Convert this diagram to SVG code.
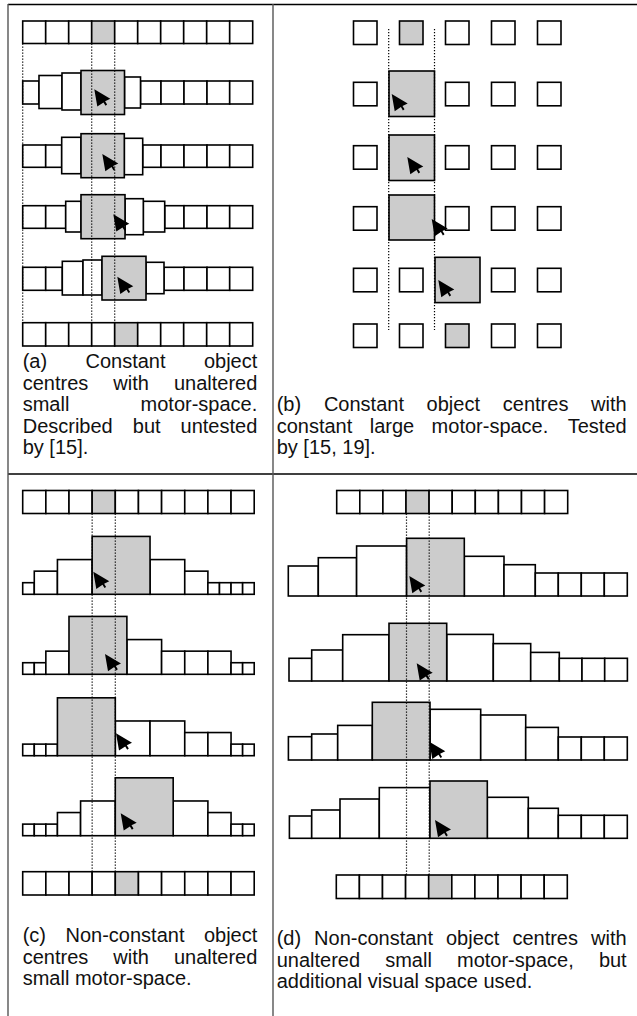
<svg xmlns="http://www.w3.org/2000/svg" width="637" height="1016" viewBox="0 0 637 1016">
<defs>
<style>
.c{fill:#fff;stroke:#000;stroke-width:1.6}
.g{fill:#ccc;stroke:#000;stroke-width:1.6}
.dot{stroke:#000;stroke-width:1.2;stroke-dasharray:1.3 1.7;fill:none}
.t{font-family:"Liberation Sans",Arial,sans-serif;font-size:20px;fill:#111}
.e{text-anchor:end}
.frame{stroke-width:1.4}
</style>
<path id="cur" d="M0,0 L16,9.5 L10.8,12 L12.8,15.3 L11.2,16.4 L9.2,13.1 L3,17.2 Z" fill="#000"/>
</defs>
<rect width="637" height="1016" fill="#fff"/>

<g id="frame" class="frame">
<line x1="8" y1="4.5" x2="637" y2="4.5" stroke="#000"/>
<line x1="8" y1="474" x2="637" y2="474" stroke="#000"/>
<line x1="8" y1="4" x2="8" y2="1016" stroke="#555"/>
<line x1="273" y1="4" x2="273" y2="1016" stroke="#555"/>
</g>

<g id="panel-a">
<g id="a-row1">
<rect class="c" x="22.7" y="21" width="23" height="22.5"/><rect class="c" x="45.7" y="21" width="23" height="22.5"/><rect class="c" x="68.7" y="21" width="23" height="22.5"/><rect class="g" x="91.7" y="21" width="23" height="22.5"/><rect class="c" x="114.7" y="21" width="23" height="22.5"/><rect class="c" x="137.7" y="21" width="23" height="22.5"/><rect class="c" x="160.7" y="21" width="23" height="22.5"/><rect class="c" x="183.7" y="21" width="23" height="22.5"/><rect class="c" x="206.7" y="21" width="23" height="22.5"/><rect class="c" x="229.7" y="21" width="23" height="22.5"/>
</g>
<g id="a-row2">
<rect class="c" x="22.7" y="81" width="16.3" height="23"/><rect class="c" x="140.5" y="81" width="20.5" height="23"/><rect class="c" x="161" y="81" width="23" height="23"/><rect class="c" x="184" y="81" width="23" height="23"/><rect class="c" x="207" y="81" width="22.7" height="23"/><rect class="c" x="229.7" y="81" width="23" height="23"/>
<rect class="c" x="39" y="75.5" width="23" height="33"/><rect class="c" x="62" y="73" width="19" height="37"/><rect class="c" x="124.5" y="77" width="16" height="31"/>
<rect class="g" x="81" y="70.5" width="43.5" height="44"/>
</g>
<g id="a-row3">
<rect class="c" x="22.7" y="145" width="23" height="22.3"/><rect class="c" x="45.7" y="145" width="16" height="22.3"/><rect class="c" x="142.7" y="145" width="18.3" height="22.3"/><rect class="c" x="161" y="145" width="23" height="22.3"/><rect class="c" x="184" y="145" width="23" height="22.3"/><rect class="c" x="207" y="145" width="22.7" height="22.3"/><rect class="c" x="229.7" y="145" width="23" height="22.3"/>
<rect class="c" x="61.7" y="137.3" width="19.3" height="36.4"/><rect class="c" x="124.3" y="138.3" width="18.4" height="36.4"/>
<rect class="g" x="81" y="133.7" width="43.3" height="44"/>
</g>
<g id="a-row4">
<rect class="c" x="22.7" y="205.7" width="23" height="22.6"/><rect class="c" x="45.7" y="205.7" width="20" height="22.6"/><rect class="c" x="164.7" y="205.7" width="19.3" height="22.6"/><rect class="c" x="184" y="205.7" width="23" height="22.6"/><rect class="c" x="207" y="205.7" width="22.7" height="22.6"/><rect class="c" x="229.7" y="205.7" width="23" height="22.6"/>
<rect class="c" x="65.7" y="201.3" width="15.3" height="30.7"/><rect class="c" x="143.3" y="201.3" width="21.4" height="30.7"/><rect class="c" x="125" y="198.7" width="18.3" height="36"/>
<rect class="g" x="81" y="194.7" width="44" height="44"/>
</g>
<g id="a-row5">
<rect class="c" x="22.7" y="267.3" width="23" height="23"/><rect class="c" x="45.7" y="267.3" width="16.6" height="23"/><rect class="c" x="164" y="267.3" width="20" height="23"/><rect class="c" x="184" y="267.3" width="23" height="23"/><rect class="c" x="207" y="267.3" width="22.7" height="23"/><rect class="c" x="229.7" y="267.3" width="23" height="23"/>
<rect class="c" x="62.3" y="261.3" width="20.7" height="33.7"/><rect class="c" x="83" y="260" width="19" height="35"/><rect class="c" x="146" y="262.3" width="18" height="31.4"/>
<rect class="g" x="102" y="256.3" width="44" height="43.7"/>
</g>
<g id="a-row6">
<rect class="c" x="22.7" y="322.7" width="23" height="23.3"/><rect class="c" x="45.7" y="322.7" width="23" height="23.3"/><rect class="c" x="68.7" y="322.7" width="23" height="23.3"/><rect class="c" x="91.7" y="322.7" width="23" height="23.3"/><rect class="g" x="114.7" y="322.7" width="23" height="23.3"/><rect class="c" x="137.7" y="322.7" width="23" height="23.3"/><rect class="c" x="160.7" y="322.7" width="23" height="23.3"/><rect class="c" x="183.7" y="322.7" width="23" height="23.3"/><rect class="c" x="206.7" y="322.7" width="23" height="23.3"/><rect class="c" x="229.7" y="322.7" width="23" height="23.3"/>
</g>
<g id="a-guides">
<line class="dot" x1="22.7" y1="43.5" x2="22.7" y2="322.7"/>
<line class="dot" x1="91.7" y1="43.5" x2="91.7" y2="322.7"/>
<line class="dot" x1="114.7" y1="43.5" x2="114.7" y2="322.7"/>
</g>
<g id="a-cursors">
<use href="#cur" x="94.3" y="89.3"/><use href="#cur" x="102.3" y="154"/><use href="#cur" x="113.3" y="214.3"/><use href="#cur" x="117.3" y="276.7"/>
</g>
<text class="t" y="367.5"><tspan x="22.7">(a)</tspan><tspan x="85.5">Constant</tspan><tspan class="e" x="257.3">object</tspan></text>
<text class="t" y="389.5"><tspan x="22.7">centres</tspan><tspan x="113.3">with</tspan><tspan class="e" x="257.3">unaltered</tspan></text>
<text class="t" y="411"><tspan x="22.7">small</tspan><tspan class="e" x="257.3">motor-space.</tspan></text>
<text class="t" y="432.5"><tspan x="22.7">Described</tspan><tspan x="132.8">but</tspan><tspan class="e" x="257.3">untested</tspan></text>
<text class="t" x="22.7" y="454">by [15].</text>
</g>

<g id="panel-b">
<g id="b-row1">
<rect class="c" x="353.5" y="21" width="23.5" height="23.5"/><rect class="g" x="399.5" y="21" width="23.5" height="23.5"/><rect class="c" x="445.5" y="21" width="23.5" height="23.5"/><rect class="c" x="491.5" y="21" width="23.5" height="23.5"/><rect class="c" x="537.5" y="21" width="23.5" height="23.5"/>
</g>
<g id="b-row2">
<rect class="c" x="353.5" y="82.3" width="23.5" height="23.5"/><rect class="c" x="445.5" y="82.3" width="23.5" height="23.5"/><rect class="c" x="491.5" y="82.3" width="23.5" height="23.5"/><rect class="c" x="537.5" y="82.3" width="23.5" height="23.5"/>
<rect class="g" x="389" y="71" width="45.5" height="45.5"/>
</g>
<g id="b-row3">
<rect class="c" x="353.5" y="145.7" width="23.5" height="23.5"/><rect class="c" x="445.5" y="145.7" width="23.5" height="23.5"/><rect class="c" x="491.5" y="145.7" width="23.5" height="23.5"/><rect class="c" x="537.5" y="145.7" width="23.5" height="23.5"/>
<rect class="g" x="389" y="135" width="45.5" height="45.5"/>
</g>
<g id="b-row4">
<rect class="c" x="353.5" y="206.7" width="23.5" height="23.5"/><rect class="c" x="445.5" y="206.7" width="23.5" height="23.5"/><rect class="c" x="491.5" y="206.7" width="23.5" height="23.5"/><rect class="c" x="537.5" y="206.7" width="23.5" height="23.5"/>
<rect class="g" x="389" y="195" width="45.5" height="45"/>
</g>
<g id="b-row5">
<rect class="c" x="353.5" y="268.3" width="23.5" height="23.5"/><rect class="c" x="399.5" y="268.3" width="23.5" height="23.5"/><rect class="c" x="491.5" y="268.3" width="23.5" height="23.5"/><rect class="c" x="537.5" y="268.3" width="23.5" height="23.5"/>
<rect class="g" x="435" y="257.3" width="45" height="45.3"/>
</g>
<g id="b-row6">
<rect class="c" x="353.5" y="324" width="23.5" height="23.5"/><rect class="c" x="399.5" y="324" width="23.5" height="23.5"/><rect class="g" x="445.5" y="324" width="23.5" height="23.5"/><rect class="c" x="491.5" y="324" width="23.5" height="23.5"/><rect class="c" x="537.5" y="324" width="23.5" height="23.5"/>
</g>
<g id="b-guides">
<line class="dot" x1="388.7" y1="29" x2="388.7" y2="330"/>
<line class="dot" x1="434.5" y1="29" x2="434.5" y2="330"/>
</g>
<g id="b-cursors">
<use href="#cur" x="391.7" y="94"/><use href="#cur" x="407.3" y="157"/><use href="#cur" x="431.7" y="219"/><use href="#cur" x="438.3" y="280"/>
</g>
<text class="t" y="411"><tspan x="276.7">(b)</tspan><tspan x="323.9">Constant</tspan><tspan x="426.6">object</tspan><tspan x="502.8">centres</tspan><tspan class="e" x="626.7">with</tspan></text>
<text class="t" y="432.5"><tspan x="276.7">constant</tspan><tspan x="369.7">large</tspan><tspan x="431.6">motor-space.</tspan><tspan class="e" x="626.7">Tested</tspan></text>
<text class="t" x="276.7" y="454">by [15, 19].</text>
</g>

<g id="panel-c">
<g id="c-row1">
<rect class="c" x="22.7" y="490.5" width="23.15" height="23"/><rect class="c" x="45.85" y="490.5" width="23.15" height="23"/><rect class="c" x="69" y="490.5" width="23.15" height="23"/><rect class="g" x="92.15" y="490.5" width="23.15" height="23"/><rect class="c" x="115.3" y="490.5" width="23.15" height="23"/><rect class="c" x="138.45" y="490.5" width="23.15" height="23"/><rect class="c" x="161.6" y="490.5" width="23.15" height="23"/><rect class="c" x="184.75" y="490.5" width="23.15" height="23"/><rect class="c" x="207.9" y="490.5" width="23.15" height="23"/><rect class="c" x="231.05" y="490.5" width="23.15" height="23"/>
</g>
<g id="c-row2">
<rect class="c" x="22.7" y="582.7" width="11.58" height="11.6"/><rect class="c" x="34.28" y="571.15" width="23.15" height="23.15"/><rect class="c" x="57.43" y="559.58" width="34.72" height="34.72"/><rect class="c" x="150.03" y="559.58" width="34.72" height="34.72"/><rect class="c" x="184.75" y="571.15" width="23.15" height="23.15"/><rect class="c" x="207.9" y="582.7" width="11.58" height="11.6"/><rect class="c" x="219.48" y="582.7" width="11.58" height="11.6"/><rect class="c" x="231.05" y="582.7" width="11.58" height="11.6"/><rect class="c" x="242.63" y="582.7" width="11.58" height="11.6"/>
<rect class="g" x="92.15" y="536.42" width="57.88" height="57.88"/>
</g>
<g id="c-row3">
<rect class="c" x="22.7" y="662.72" width="11.58" height="11.58"/><rect class="c" x="34.28" y="662.72" width="11.58" height="11.58"/><rect class="c" x="45.85" y="651.15" width="23.15" height="23.15"/><rect class="c" x="126.88" y="639.58" width="34.72" height="34.72"/><rect class="c" x="161.6" y="651.15" width="23.15" height="23.15"/><rect class="c" x="184.75" y="651.15" width="23.15" height="23.15"/><rect class="c" x="207.9" y="651.15" width="23.15" height="23.15"/><rect class="c" x="231.05" y="662.72" width="11.58" height="11.58"/><rect class="c" x="242.63" y="662.72" width="11.58" height="11.58"/>
<rect class="g" x="69" y="616.42" width="57.88" height="57.88"/>
</g>
<g id="c-row4">
<rect class="c" x="22.7" y="744.12" width="11.58" height="11.58"/><rect class="c" x="34.28" y="744.12" width="11.58" height="11.58"/><rect class="c" x="45.85" y="744.12" width="11.58" height="11.58"/><rect class="c" x="115.3" y="720.98" width="34.72" height="34.72"/><rect class="c" x="150.03" y="720.98" width="34.72" height="34.72"/><rect class="c" x="184.75" y="732.55" width="23.15" height="23.15"/><rect class="c" x="207.9" y="732.55" width="23.15" height="23.15"/><rect class="c" x="231.05" y="744.12" width="11.58" height="11.58"/><rect class="c" x="242.63" y="744.12" width="11.58" height="11.58"/>
<rect class="g" x="57.43" y="697.82" width="57.88" height="57.88"/>
</g>
<g id="c-row5">
<rect class="c" x="22.7" y="824.12" width="11.58" height="11.58"/><rect class="c" x="34.28" y="824.12" width="11.58" height="11.58"/><rect class="c" x="45.85" y="824.12" width="11.58" height="11.58"/><rect class="c" x="57.43" y="812.55" width="23.15" height="23.15"/><rect class="c" x="80.58" y="800.98" width="34.72" height="34.72"/><rect class="c" x="173.18" y="800.98" width="34.72" height="34.72"/><rect class="c" x="207.9" y="812.55" width="23.15" height="23.15"/><rect class="c" x="231.05" y="824.12" width="11.58" height="11.58"/><rect class="c" x="242.63" y="824.12" width="11.58" height="11.58"/>
<rect class="g" x="115.3" y="777.82" width="57.88" height="57.88"/>
</g>
<g id="c-row6">
<rect class="c" x="22.7" y="871.7" width="23.15" height="23.3"/><rect class="c" x="45.85" y="871.7" width="23.15" height="23.3"/><rect class="c" x="69" y="871.7" width="23.15" height="23.3"/><rect class="c" x="92.15" y="871.7" width="23.15" height="23.3"/><rect class="g" x="115.3" y="871.7" width="23.15" height="23.3"/><rect class="c" x="138.45" y="871.7" width="23.15" height="23.3"/><rect class="c" x="161.6" y="871.7" width="23.15" height="23.3"/><rect class="c" x="184.75" y="871.7" width="23.15" height="23.3"/><rect class="c" x="207.9" y="871.7" width="23.15" height="23.3"/><rect class="c" x="231.05" y="871.7" width="23.15" height="23.3"/>
</g>
<g id="c-guides">
<line class="dot" x1="92.15" y1="513.5" x2="92.15" y2="871.7"/>
<line class="dot" x1="115.3" y1="513.5" x2="115.3" y2="871.7"/>
</g>
<g id="c-cursors">
<use href="#cur" x="93.3" y="571.7"/><use href="#cur" x="105" y="654"/><use href="#cur" x="116" y="733.3"/><use href="#cur" x="120.7" y="813.3"/>
</g>
<text class="t" y="942"><tspan x="22.7">(c)</tspan><tspan x="65.5">Non-constant</tspan><tspan class="e" x="257.3">object</tspan></text>
<text class="t" y="963.5"><tspan x="22.7">centres</tspan><tspan x="113.3">with</tspan><tspan class="e" x="257.3">unaltered</tspan></text>
<text class="t" x="22.7" y="985">small motor-space.</text>
</g>

<g id="panel-d">
<g id="d-row1">
<rect class="c" x="336.7" y="490.5" width="23.1" height="23"/><rect class="c" x="359.8" y="490.5" width="23.1" height="23"/><rect class="c" x="382.9" y="490.5" width="23.1" height="23"/><rect class="g" x="406" y="490.5" width="23.1" height="23"/><rect class="c" x="429.1" y="490.5" width="23.1" height="23"/><rect class="c" x="452.2" y="490.5" width="23.1" height="23"/><rect class="c" x="475.3" y="490.5" width="23.1" height="23"/><rect class="c" x="498.4" y="490.5" width="23.1" height="23"/><rect class="c" x="521.5" y="490.5" width="23.1" height="23"/><rect class="c" x="544.6" y="490.5" width="23.1" height="23"/>
</g>
<g id="d-row2">
<rect class="c" x="288.3" y="566" width="30" height="30"/><rect class="c" x="318.3" y="557.7" width="38.3" height="38.3"/><rect class="c" x="356.6" y="546" width="50" height="50"/><rect class="c" x="464.3" y="556.3" width="39.7" height="39.7"/><rect class="c" x="504" y="564.7" width="31.3" height="31.3"/><rect class="c" x="535.3" y="573" width="23" height="23"/><rect class="c" x="558.3" y="573" width="23" height="23"/><rect class="c" x="581.3" y="573" width="23" height="23"/><rect class="c" x="604.3" y="573" width="23" height="23"/>
<rect class="g" x="406.6" y="538.3" width="57.7" height="57.7"/>
</g>
<g id="d-row3">
<rect class="c" x="289" y="658.3" width="22.7" height="22.7"/><rect class="c" x="311.7" y="650" width="31" height="31"/><rect class="c" x="342.7" y="634.7" width="46.3" height="46.3"/><rect class="c" x="446.7" y="634.4" width="46.6" height="46.6"/><rect class="c" x="493.3" y="643.6" width="37.4" height="37.4"/><rect class="c" x="530.7" y="652.4" width="28.6" height="28.6"/><rect class="c" x="559.3" y="658.3" width="22.7" height="22.7"/><rect class="c" x="582" y="658.3" width="22.7" height="22.7"/><rect class="c" x="604.7" y="658.3" width="22.7" height="22.7"/>
<rect class="g" x="389" y="623.3" width="57.7" height="57.7"/>
</g>
<g id="d-row4">
<rect class="c" x="288.4" y="736.7" width="23.3" height="23.3"/><rect class="c" x="311.7" y="734" width="26" height="26"/><rect class="c" x="337.7" y="725.4" width="34.6" height="34.6"/><rect class="c" x="430" y="709.3" width="50.7" height="50.7"/><rect class="c" x="480.7" y="715" width="45" height="45"/><rect class="c" x="525.7" y="727.4" width="32.6" height="32.6"/><rect class="c" x="558.3" y="737" width="23" height="23"/><rect class="c" x="581.3" y="737" width="23" height="23"/><rect class="c" x="604.3" y="737" width="23" height="23"/>
<rect class="g" x="372.3" y="702.3" width="57.7" height="57.7"/>
</g>
<g id="d-row5">
<rect class="c" x="289.4" y="816" width="22.3" height="22.3"/><rect class="c" x="311.7" y="810" width="28.3" height="28.3"/><rect class="c" x="340" y="799" width="39.3" height="39.3"/><rect class="c" x="379.3" y="787.6" width="50.7" height="50.7"/><rect class="c" x="487.3" y="797.3" width="41" height="41"/><rect class="c" x="528.3" y="808.3" width="30" height="30"/><rect class="c" x="558.3" y="815.3" width="23" height="23"/><rect class="c" x="581.3" y="815.3" width="23" height="23"/><rect class="c" x="604.3" y="815.3" width="23" height="23"/>
<rect class="g" x="430" y="781" width="57.3" height="57.3"/>
</g>
<g id="d-row6">
<rect class="c" x="336.3" y="875" width="23.1" height="23.5"/><rect class="c" x="359.4" y="875" width="23.1" height="23.5"/><rect class="c" x="382.5" y="875" width="23.1" height="23.5"/><rect class="c" x="405.6" y="875" width="23.1" height="23.5"/><rect class="g" x="428.7" y="875" width="23.1" height="23.5"/><rect class="c" x="451.8" y="875" width="23.1" height="23.5"/><rect class="c" x="474.9" y="875" width="23.1" height="23.5"/><rect class="c" x="498" y="875" width="23.1" height="23.5"/><rect class="c" x="521.1" y="875" width="23.1" height="23.5"/><rect class="c" x="544.2" y="875" width="23.1" height="23.5"/>
</g>
<g id="d-guides">
<line class="dot" x1="406.5" y1="513.5" x2="406.5" y2="875"/>
<line class="dot" x1="429.2" y1="513.5" x2="429.2" y2="875"/>
</g>
<g id="d-cursors">
<use href="#cur" x="409.3" y="576"/><use href="#cur" x="416.7" y="663.3"/><use href="#cur" x="429.3" y="741.7"/><use href="#cur" x="435" y="820"/>
</g>
<text class="t" y="945"><tspan x="276.7">(d)</tspan><tspan x="314.1">Non-constant</tspan><tspan x="446">object</tspan><tspan x="512.4">centres</tspan><tspan class="e" x="626.7">with</tspan></text>
<text class="t" y="966.5"><tspan x="276.7">unaltered</tspan><tspan x="385.2">small</tspan><tspan x="457">motor-space,</tspan><tspan class="e" x="626.7">but</tspan></text>
<text class="t" x="276.7" y="988">additional visual space used.</text>
</g>
</svg>
